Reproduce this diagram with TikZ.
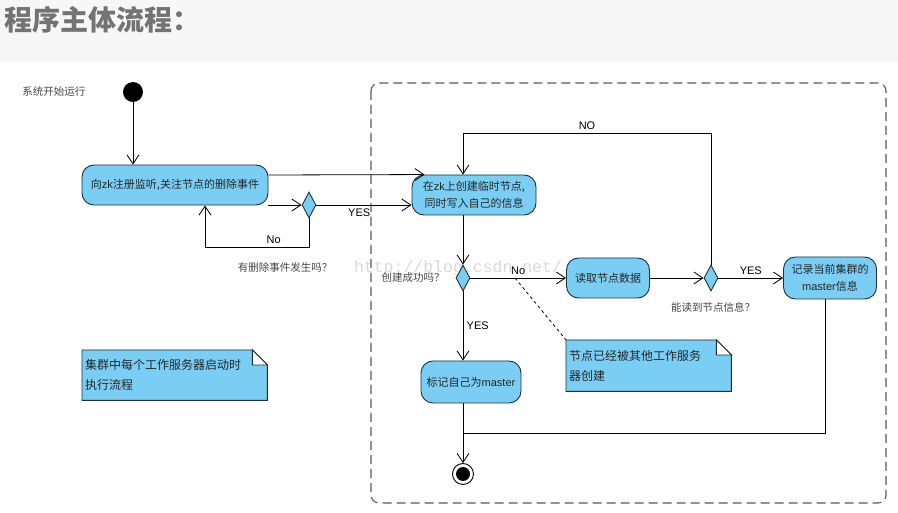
\documentclass[tikz,border=0pt]{standalone}
\usepackage{fontspec}
\setmainfont{Noto Sans CJK SC}
\newfontfamily\latinfont{Liberation Sans}
\newfontfamily\markfont{Liberation Mono}
\usetikzlibrary{shapes.geometric,arrows.meta,backgrounds}

\definecolor{boxblue}{RGB}{122,206,244}
\definecolor{boxline}{RGB}{30,48,58}
\definecolor{labelgray}{RGB}{70,70,70}

\newcommand{\ltn}[1]{{\latinfont #1}}

\tikzset{
  actbox/.style={draw=boxline, fill=boxblue, rounded corners=12pt, line width=0.9pt,
    align=center, text=black!85, font=\fontsize{11}{17}\selectfont, inner sep=2pt},
  choice/.style={diamond, draw=boxline, fill=boxblue, minimum width=14pt,
    minimum height=26pt, inner sep=0pt, line width=0.9pt},
  arr/.style={-{Straight Barb[length=9pt,width=12pt]}, line width=0.8pt},
  lbl/.style={font=\fontsize{10.5}{12}\selectfont, text=labelgray},
  yn/.style={font=\latinfont\fontsize{11}{12}\selectfont},
  notetext/.style={anchor=north west, align=left, text=black!85,
    font=\fontsize{12}{20}\selectfont, inner sep=3pt},
  frame/.style={draw=black!65, line width=1.1pt, rounded corners=8pt,
    dash pattern=on 9pt off 5pt}
}

\begin{document}
\begin{tikzpicture}[x=1pt,y=-1pt]
\useasboundingbox (0,0) rectangle (898,513);

% Title band
\fill[black!3] (0,0) rectangle (898,62);
\node[anchor=west, inner sep=0pt, font=\bfseries\fontsize{28}{30}\selectfont, text=black!55] (title) at (4,20) {程序主体流程：};

% Watermark
\node[font=\markfont\fontsize{16.5}{17}\selectfont, text=black!15] (mark) at (458,268) {http://blog.csdn.net/};

% Worker frame
\draw[frame] (371,83) rectangle (886,503);

% Start
\node[lbl] (starttxt) at (54,92) {系统开始运行};
\node[circle, fill=black, minimum size=20pt, inner sep=0pt] (start) at (133,92) {};

% Activities and decisions
\node[actbox, minimum width=186pt, minimum height=40pt] (regbox) at (175,185) {向\ltn{zk}注册监听,关注节点的删除事件};
\node[choice] (d1) at (309,205) {};
\node[actbox, minimum width=124pt, minimum height=40pt] (createbox) at (474,195) {在\ltn{zk}上创建临时节点,\\同时写入自己的信息};
\node[choice] (d2) at (463,278) {};
\node[actbox, minimum width=83pt, minimum height=40pt] (readbox) at (608,278) {读取节点数据};
\node[choice] (d3) at (711,278) {};
\node[actbox, minimum width=93pt, minimum height=42pt] (recbox) at (830,278) {记录当前集群的\\\ltn{master}信息};
\node[actbox, minimum width=100pt, minimum height=42pt] (markbox) at (471,382) {标记自己为\ltn{master}};

% End
\node[circle, draw=black, line width=0.9pt, minimum size=21pt, inner sep=0pt] (stop) at (463,474) {};
\fill (stop) circle (7);

% Decision texts
\node[lbl] (q1) at (285,267) {有删除事件发生吗？};
\node[lbl] (q2) at (413,278) {创建成功吗？};
\node[lbl] (q3) at (713,307) {能读到节点信息？};

% Notes
\node[notetext, text width=179pt, minimum height=50pt] (note1) at (82,350) {集群中每个工作服务器启动时\\执行流程};
\node[notetext, text width=159pt, minimum height=51pt] (note2) at (566,340) {节点已经被其他工作服务\\器创建};
\begin{scope}[on background layer]
\foreach \n in {note1,note2} {
  \draw[fill=boxblue, draw=boxline, line width=0.9pt] (\n.south west) -- (\n.north west)
    -- ([xshift=-15pt]\n.north east) -- ([yshift=-15pt]\n.north east) -- (\n.south east) -- cycle;
  \draw[fill=white, draw=boxline, line width=0.9pt] ([xshift=-15pt]\n.north east)
    |- ([yshift=-15pt]\n.north east) -- cycle;
}
\end{scope}

% Connectors
\draw[arr] (start) -- (start |- regbox.north);
\draw[arr] ([yshift=10pt]regbox.east) -- ([xshift=13pt]createbox.north west);
\draw[arr] (regbox.east |- d1) -- (d1);
\draw[arr] (d1) -- (d1 -| createbox.west) node[pos=0.45, below, yn] {YES};
\draw[arr] (d1) -- ++(0,42) -| ([xshift=30pt]regbox.south) node[pos=0.17, above, yn] {No};
\draw[arr] (createbox.south -| d2) -- (d2);
\draw[arr] (d2) -- (readbox) node[midway, above, yn] {No};
\draw[arr] (d2) -- (d2 |- markbox.north) node[midway, right, yn] {YES};
\draw[arr] (readbox) -- (d3);
\draw[arr] (d3) -- (recbox) node[midway, above, yn] {YES};
\draw[arr] (d3) -- ++(0,-145) -| ([xshift=-11pt]createbox.north) node[pos=0.25, above, yn] {NO};
\draw[arr] (markbox.south -| stop) -- (stop);
\coordinate (merge) at (463,433);
\draw[line width=0.8pt] ([xshift=-5pt]recbox.south) |- (merge);

% Note link
\coordinate (nolink) at (515,278);
\draw[dashed, line width=0.8pt] (nolink) -- (note2.north west);

\end{tikzpicture}
\end{document}
